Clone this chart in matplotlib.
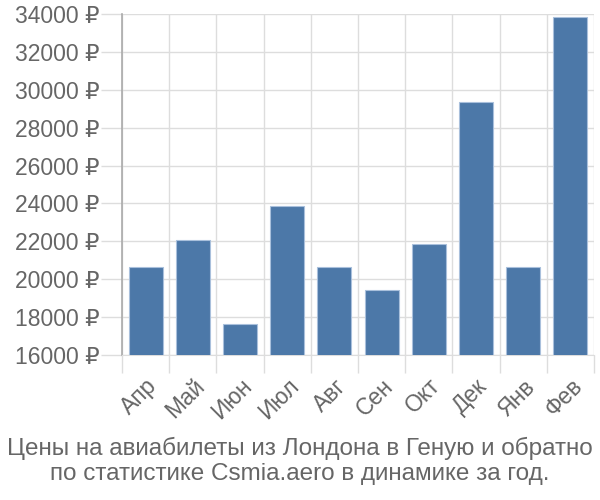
import matplotlib
matplotlib.use("Agg")
import matplotlib.pyplot as plt
import numpy as np

plt.rcParams['font.family'] = ['Liberation Sans', 'DejaVu Sans']

#%% data
months = ['Апр', 'Май', 'Июн', 'Июл', 'Авг', 'Сен', 'Окт', 'Дек', 'Янв', 'Фев']
prices = [20660, 22050, 17620, 23850, 20660, 19410, 21840, 29360, 20660, 33860]
y_ticks = [16000, 18000, 20000, 22000, 24000, 26000, 28000, 30000, 32000, 34000]
title = ('Цены на авиабилеты из Лондона в Геную и обратно\n'
         'по статистике Csmia.aero в динамике за год.')

#%% plot
txt_col = '#666666'
grid_col = '#dddddd'

fig = plt.figure(figsize=(6, 5), dpi=100)
ax = fig.add_axes([0.2033, 0.29, 0.7867, 0.682])

x = np.arange(len(months))
ax.bar(x, prices, width=0.72, bottom=0, color='#4c78a8',
       edgecolor='#a9c0dc', linewidth=0.8, zorder=3)

ax.set_xlim(-0.5, len(months) - 0.5)
ax.set_ylim(y_ticks[0], y_ticks[-1])

# grid lines between categories, extended below the axis as ticks
ax.set_xticks(np.arange(-0.5, len(months) + 0.5), minor=False)
ax.set_xticklabels([])
ax.tick_params(axis='x', which='major', length=13, width=1, color=grid_col)
ax.set_xticks(x, minor=True)
ax.set_xticklabels(months, minor=True, rotation=45, ha='right',
                   rotation_mode='anchor', fontsize=16.5, color=txt_col)
ax.tick_params(axis='x', which='minor', length=0, pad=14)
ax.grid(axis='x', which='major', color=grid_col, linewidth=1, zorder=0)

ax.set_yticks(y_ticks)
ax.set_yticklabels(['%d ₽' % v for v in y_ticks], fontsize=16.5, color=txt_col)
ax.tick_params(axis='y', length=15, width=1, color=grid_col, pad=1)
ax.grid(axis='y', color=grid_col, linewidth=1, zorder=0)

for s in ['top', 'right']:
    ax.spines[s].set_visible(False)
ax.spines['left'].set_color('#aaaaaa')
ax.spines['left'].set_linewidth(1.2)
ax.spines['bottom'].set_color(grid_col)

fig.text(0.5, 0.078, title, ha='center', va='center', fontsize=17.5,
         color=txt_col, linespacing=1.2)

fig.savefig('out.png', dpi=100)
